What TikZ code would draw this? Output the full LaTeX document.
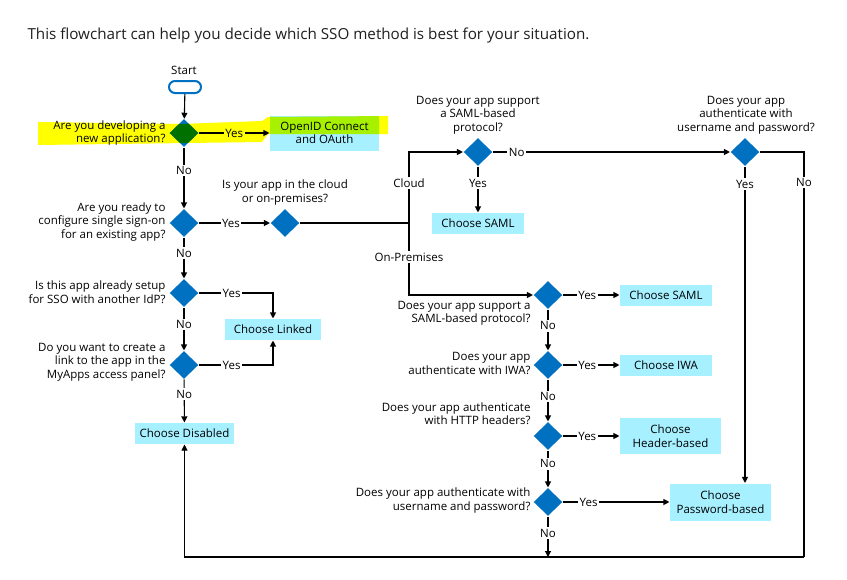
\documentclass[tikz,border=0pt]{standalone}
\usepackage{fontspec}
\setmainfont{Open Sans}
\usetikzlibrary{shapes.geometric,arrows.meta}
\definecolor{msblue}{RGB}{0,112,192}
\definecolor{anscyan}{RGB}{166,240,255}
\definecolor{hlyellow}{RGB}{255,255,0}
\definecolor{hlgreen}{RGB}{0,112,0}
\definecolor{hllime}{RGB}{166,240,0}
\begin{document}
\begin{tikzpicture}[x=1pt,y=-1pt,line width=1.1pt,
  every node/.style={font=\fontsize{11.5}{13.5}\selectfont,inner sep=0pt},
  dia/.style={diamond,fill=msblue,minimum width=29pt,minimum height=28pt},
  ans/.style={fill=anscyan,align=center},
  ques/.style={align=right,anchor=east},
  lbl/.style={fill=white,inner sep=1.5pt},
  arr/.style={-{Triangle[length=6pt,width=6pt]}}]
\useasboundingbox (0,0) rectangle (847,579);
\node[anchor=west,font=\fontsize{15.2}{18}\selectfont,text=black!88] (cap) at (27,36) {This flowchart can help you decide which SSO method is best for your situation.};
\coordinate (h1) at (38,122); \coordinate (h2) at (180,124); \coordinate (h3) at (262,121);
\coordinate (h4) at (268,117); \coordinate (h5) at (388,116); \coordinate (h6) at (388,134);
\coordinate (h7) at (268,134); \coordinate (h8) at (262,142); \coordinate (h9) at (38,145);
\fill[hlyellow] (h1) -- (h2) -- (h3) -- (h4) -- (h5) -- (h6) -- (h7) -- (h8) -- (h9) -- cycle;
\node (startlbl) at (184,70) {Start};
\node[draw=msblue,fill=white,line width=2pt,rounded corners=6pt,minimum width=32pt,minimum height=12pt] (start) at (185,87) {};
\node[dia,path picture={\fill[hlgreen] (h1) -- (h2) -- (h3) -- (h4) -- (h5) -- (h6) -- (h7) -- (h8) -- (h9) -- cycle;}] (q1) at (184,133) {};
\node[ques] (q1t) at (166,133) {Are you developing a\\new application?};
\node[ans,minimum width=109pt,minimum height=35pt,path picture={\fill[hllime] (h1) -- (h2) -- (h3) -- (h4) -- (h5) -- (h6) -- (h7) -- (h8) -- (h9) -- cycle;}] (oidc) at (324.5,133) {OpenID Connect\\and OAuth};
\node[dia] (q2) at (184,223) {};
\node[ques] (q2t) at (166,222) {Are you ready to\\configure single sign-on\\for an existing app?};
\node[dia] (qc) at (285,223) {};
\node[align=center] (qct) at (285,192.5) {Is your app in the cloud\\or on-premises?};
\coordinate (br) at (409,223);
\node[dia] (q3) at (184,293) {};
\node[ques] (q3t) at (166,292) {Is this app already setup\\for SSO with another IdP?};
\node[ans,minimum width=96pt,minimum height=21pt] (linked) at (273,329.5) {Choose Linked};
\node[dia] (q4) at (184,365) {};
\node[ques] (q4t) at (166,362) {Do you want to create a\\link to the app in the\\MyApps access panel?};
\node[ans,minimum width=99pt,minimum height=21pt] (disabled) at (184.5,433.5) {Choose Disabled};
\node[dia] (qs) at (478,152) {};
\node[align=center] (qst) at (478,115) {Does your app support\\a SAML-based\\protocol?};
\node[ans,minimum width=92pt,minimum height=21pt] (saml) at (478,223.5) {Choose SAML};
\node[dia] (qp) at (745,152) {};
\node[align=center] (qpt) at (746,115) {Does your app\\authenticate with\\username and password?};
\node[dia] (q5) at (548,295) {};
\node[ques] (q5t) at (531,313.5) {Does your app support a\\SAML-based protocol?};
\node[ans,minimum width=92pt,minimum height=21pt] (saml2) at (666,295) {Choose SAML};
\node[dia] (q6) at (548,365) {};
\node[ques] (q6t) at (531,363.5) {Does your app\\authenticate with IWA?};
\node[ans,minimum width=92pt,minimum height=21pt] (iwa) at (666,365) {Choose IWA};
\node[dia] (q7) at (548,436) {};
\node[ques] (q7t) at (531,413.5) {Does your app authenticate\\with HTTP headers?};
\node[ans,minimum width=101pt,minimum height=36pt] (header) at (670.5,436) {Choose\\Header-based};
\node[dia] (q8) at (548,502) {};
\node[ques] (q8t) at (531,500.5) {Does your app authenticate with\\username and password?};
\node[ans,minimum width=101pt,minimum height=37pt] (password) at (720.5,502) {Choose\\Password-based};
\coordinate (cbr) at (804,557);
\coordinate (cbm) at (548,557);
\draw[arr] (start) -- (q1);
\draw[arr] (q1) -- node[lbl,fill=hlyellow]{Yes} (oidc);
\draw[arr] (q1) -- node[lbl,pos=0.38]{No} (q2);
\draw[arr] (q2) -- node[lbl,pos=0.45]{Yes} (qc);
\draw[arr] (q2) -- node[lbl,pos=0.38]{No} (q3);
\draw[arr] (q3) -| node[lbl,pos=0.22]{Yes} (linked);
\draw[arr] (q3) -- node[lbl,pos=0.39]{No} (q4);
\draw[arr] (q4) -| node[lbl,pos=0.22]{Yes} (linked);
\draw[arr] (q4) -- node[lbl,pos=0.34]{No} (disabled);
\draw (qc) -- (br);
\draw[arr] (br) |- node[lbl,pos=0.28]{Cloud} (qs);
\draw[arr] (br) |- node[lbl,pos=0.235]{On-Premises} (q5);
\draw[arr] (qs) -- node[lbl,pos=0.36]{Yes} (saml);
\draw[arr] (qs) -- node[lbl,pos=0.1]{No} (qp);
\draw[arr] (qp) -- node[lbl,pos=0.055]{Yes} (qp |- password.north);
\draw (qp) -| node[lbl,pos=0.538]{No} (cbr);
\draw[arr] (cbr) -| (disabled);
\draw[arr] (q5) -- node[lbl,pos=0.43]{Yes} (saml2);
\draw[arr] (q5) -- node[lbl,pos=0.4]{No} (q6);
\draw[arr] (q6) -- node[lbl,pos=0.43]{Yes} (iwa);
\draw[arr] (q6) -- node[lbl,pos=0.4]{No} (q7);
\draw[arr] (q7) -- node[lbl,pos=0.43]{Yes} (header);
\draw[arr] (q7) -- node[lbl,pos=0.36]{No} (q8);
\draw[arr] (q8) -- node[lbl,pos=0.24]{Yes} (password);
\draw[arr] (q8) -- node[lbl,pos=0.41]{No} (cbm);
\end{tikzpicture}
\end{document}
